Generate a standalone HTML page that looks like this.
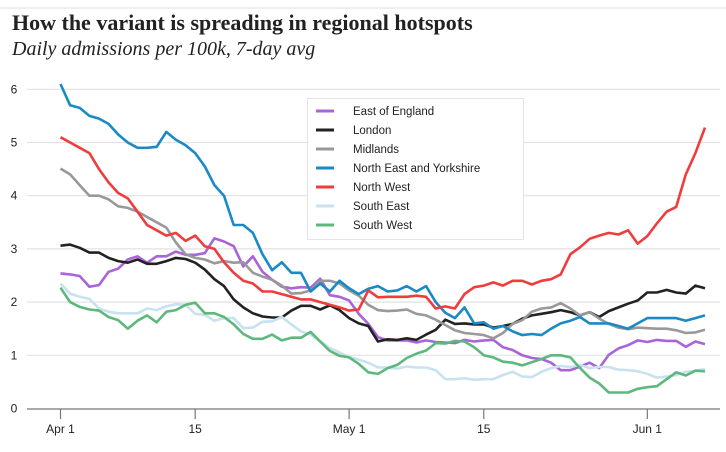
<!DOCTYPE html>
<html><head><meta charset="utf-8"><style>
body{margin:0;background:#fff;width:726px;height:447px;overflow:hidden;font-family:"Liberation Sans",sans-serif}
</style></head><body>
<svg width="726" height="447" xmlns="http://www.w3.org/2000/svg">
<line x1="0" y1="8" x2="726" y2="8" stroke="#ddd" stroke-width="1"/>
<text x="12" y="30" font-family="Liberation Serif,serif" font-weight="bold" font-size="22" fill="#222">How the variant is spreading in regional hotspots</text>
<text x="12" y="55" font-family="Liberation Serif,serif" font-style="italic" font-size="20" fill="#222">Daily admissions per 100k, 7-day avg</text>
<g id="grid"></g>
<g id="series"></g>
<g id="legend"></g>
</svg>
<script>
const yTicks=[0,1,2,3,4,5,6];
const xTickDays=[0,14,30,44,61];
const xTickLabels=["Apr 1","15","May 1","15","Jun 1"];
const seriesNames=["East of England","London","Midlands","North East and Yorkshire","North West","South East","South West"];
const seriesColors=["#a864d8","#222222","#999999","#1a8ac4","#f03c3c","#c8e2f0","#5cb87c"];
const eastOfEngland=[2.54,2.52,2.49,2.29,2.32,2.57,2.63,2.8,2.86,2.74,2.86,2.86,2.95,2.89,2.89,2.92,3.2,3.14,3.05,2.67,2.86,2.57,2.42,2.29,2.26,2.28,2.27,2.44,2.13,2.1,2.03,1.78,1.59,1.34,1.28,1.28,1.28,1.24,1.28,1.25,1.24,1.23,1.29,1.26,1.28,1.29,1.15,1.1,1.0,0.95,0.93,0.86,0.72,0.72,0.79,0.86,0.76,1.01,1.13,1.19,1.28,1.25,1.29,1.27,1.27,1.16,1.26,1.21];
const london=[3.06,3.08,3.02,2.93,2.93,2.83,2.77,2.74,2.8,2.72,2.72,2.77,2.83,2.81,2.74,2.61,2.43,2.3,2.05,1.9,1.79,1.73,1.71,1.71,1.84,1.93,1.93,1.86,1.94,1.85,1.7,1.6,1.55,1.26,1.3,1.29,1.32,1.29,1.39,1.48,1.67,1.59,1.6,1.58,1.58,1.52,1.55,1.59,1.69,1.75,1.78,1.81,1.85,1.81,1.75,1.81,1.72,1.83,1.9,1.97,2.03,2.18,2.18,2.23,2.18,2.16,2.31,2.26];
const midlands=[4.51,4.4,4.2,4.0,4.0,3.93,3.8,3.77,3.7,3.6,3.5,3.4,3.12,2.9,2.83,2.8,2.73,2.77,2.74,2.75,2.55,2.48,2.42,2.31,2.16,2.17,2.22,2.4,2.4,2.35,2.22,2.12,1.95,1.85,1.83,1.84,1.86,1.78,1.75,1.67,1.57,1.47,1.42,1.4,1.38,1.32,1.42,1.59,1.66,1.82,1.88,1.9,1.98,1.88,1.75,1.81,1.69,1.59,1.52,1.49,1.52,1.51,1.5,1.5,1.47,1.42,1.43,1.48];
const northEastYorks=[6.1,5.7,5.65,5.5,5.45,5.35,5.15,5.0,4.9,4.9,4.92,5.2,5.05,4.95,4.8,4.55,4.2,4.0,3.45,3.45,3.3,2.9,2.6,2.75,2.55,2.55,2.2,2.35,2.2,2.4,2.26,2.15,2.25,2.3,2.2,2.22,2.3,2.2,2.3,2.0,1.8,1.7,1.9,1.6,1.62,1.5,1.55,1.45,1.38,1.4,1.38,1.5,1.6,1.65,1.72,1.6,1.6,1.6,1.55,1.5,1.6,1.7,1.7,1.7,1.7,1.65,1.7,1.75];
const northWest=[5.1,5.0,4.9,4.8,4.5,4.25,4.05,3.95,3.7,3.45,3.35,3.25,3.3,3.15,3.25,3.05,3.0,2.75,2.55,2.4,2.35,2.2,2.2,2.15,2.1,2.05,2.05,2.0,1.95,1.9,1.84,1.86,2.22,2.09,2.1,2.1,2.1,2.12,2.1,1.88,1.92,1.88,2.15,2.28,2.31,2.37,2.31,2.4,2.4,2.33,2.4,2.43,2.52,2.9,3.03,3.19,3.25,3.3,3.27,3.35,3.1,3.24,3.48,3.7,3.79,4.4,4.8,5.28];
const southEast=[2.35,2.16,2.1,2.06,1.88,1.82,1.79,1.79,1.79,1.88,1.85,1.92,1.96,1.95,1.78,1.76,1.65,1.7,1.7,1.51,1.52,1.63,1.64,1.72,1.58,1.45,1.39,1.26,1.14,1.05,0.97,0.92,0.86,0.77,0.77,0.75,0.79,0.77,0.77,0.72,0.55,0.55,0.57,0.54,0.55,0.55,0.63,0.69,0.6,0.59,0.69,0.76,0.8,0.78,0.82,0.76,0.78,0.78,0.73,0.72,0.7,0.65,0.58,0.6,0.63,0.69,0.71,0.74];
const southWest=[2.27,2.0,1.91,1.86,1.84,1.72,1.66,1.5,1.65,1.75,1.62,1.82,1.85,1.95,1.99,1.79,1.79,1.72,1.58,1.4,1.31,1.31,1.39,1.28,1.33,1.33,1.44,1.26,1.08,0.99,0.96,0.84,0.68,0.65,0.76,0.82,0.95,1.03,1.09,1.23,1.22,1.27,1.26,1.15,1.0,0.96,0.88,0.86,0.81,0.87,0.93,1.0,1.0,0.96,0.76,0.58,0.47,0.3,0.3,0.3,0.37,0.4,0.42,0.55,0.68,0.62,0.71,0.7];
const allSeries=[eastOfEngland,london,midlands,northEastYorks,northWest,southEast,southWest];

const NS="http://www.w3.org/2000/svg";
function xScale(d){return 60.5+d*9.62;}
function yScale(v){return 408.5-v*53.2;}
function mk(tag,attrs,parent){const e=document.createElementNS(NS,tag);for(const k in attrs)e.setAttribute(k,attrs[k]);parent.appendChild(e);return e;}
const grid=document.getElementById('grid');
yTicks.forEach(v=>{
  if(v>0){const l=mk('line',{x1:27,x2:720,y1:yScale(v),y2:yScale(v),stroke:'#e2e2e2','stroke-width':1.2},grid);
  
  }
  const t=mk('text',{x:14,y:yScale(v)+4,'font-size':12,fill:'#222','text-anchor':'middle'},grid);
  t.textContent=v;
  
  
});
const ax=mk('line',{x1:27,x2:720,y1:409,y2:409,stroke:'#777','stroke-width':1.2},grid);


xTickDays.forEach((d,i)=>{
  const tk=mk('line',{x1:xScale(d),x2:xScale(d),y1:409,y2:419,stroke:'#777','stroke-width':1.2},grid);
  
  
  const t=mk('text',{x:xScale(d),y:433,'font-size':12,fill:'#222','text-anchor':'middle'},grid);
  t.textContent=xTickLabels[i];
  
  
});
const sg=document.getElementById('series');
allSeries.forEach((arr,i)=>{
  const pts=arr.map((v,d)=>xScale(d).toFixed(1)+','+yScale(v).toFixed(1)).join(' ');
  const p=mk('polyline',{points:pts,fill:'none',stroke:seriesColors[i],'stroke-width':2.6,'stroke-linejoin':'round'},sg);
  
  
});
const lg=document.getElementById('legend');
const box=mk('rect',{x:307.5,y:98.5,width:216,height:141,fill:'#fff',stroke:'#e4e4e4'},lg);


seriesNames.forEach((n,i)=>{
  const y=111+i*19;
  const s=mk('line',{x1:316,x2:334,y1:y,y2:y,stroke:seriesColors[i],'stroke-width':3},lg);
  
  
  const t=mk('text',{x:353,y:y+4,'font-size':11.5,fill:'#222'},lg);
  t.textContent=n;
  
  
});
</script>
</body></html>
